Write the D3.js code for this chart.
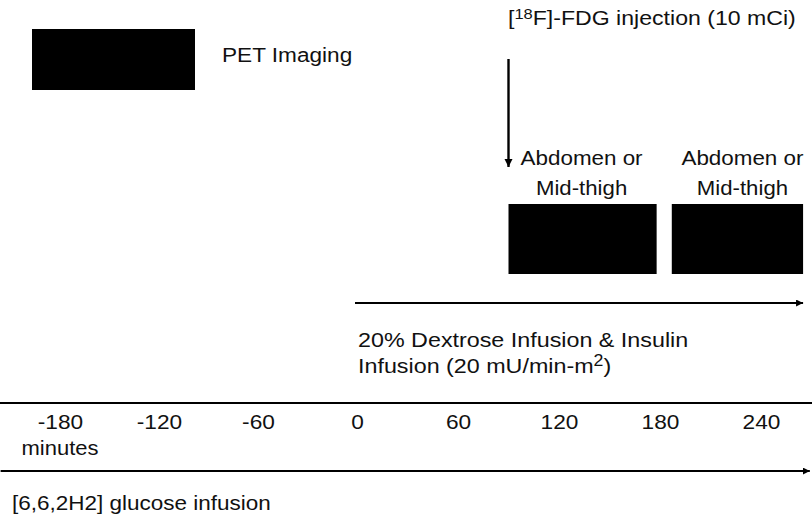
<!DOCTYPE html>
<html><head><meta charset="utf-8">
<script src="https://cdn.jsdelivr.net/npm/d3@7"></script>
<style>body{margin:0;background:#fff}svg{display:block}</style>
</head><body><div id="c"></div>
<script>
const tickValues = [-180, -120, -60, 0, 60, 120, 180, 240];
const tickLabels = ["-180", "-120", "-60", "0", "60", "120", "180", "240"];
const unitLabel = "minutes";
const scanStarts = [90, 187];
const scanEnds = [178, 265];
const scanLabels = [["Abdomen or", "Mid-thigh"], ["Abdomen or", "Mid-thigh"]];
const injectionTime = [90];
const clampStart = [0];
const clampEnd = [265];
const tracerStart = [-216];
const tracerEnd = [269];

const W = 812, H = 517;
const svg = d3.select("#c").append("svg").attr("width", W).attr("height", H);
const x = d3.scaleLinear().domain([-180, 0, 240]).range([60, 357, 761]);
const sans = "'Liberation Sans', Arial, Helvetica, sans-serif";
const FS = 21;

const defs = svg.append("defs");
defs.append("marker").attr("id", "ah").attr("viewBox", "0 0 10 10").attr("refX", 10).attr("refY", 5)
  .attr("markerWidth", 3.5).attr("markerHeight", 3.5).attr("orient", "auto").attr("markerUnits", "strokeWidth")
  .append("path").attr("d", "M0,0L10,5L0,10z").attr("fill", "#000");

function label(xp, y, sx, anchor) {
  return svg.append("text").attr("transform", `translate(${xp},${y}) scale(${sx},1)`)
    .attr("font-family", sans).attr("font-size", FS).attr("fill", "#111").attr("text-anchor", anchor || "start");
}

// Legend
svg.append("rect").attr("x", 32).attr("y", 29).attr("width", 163).attr("height", 61).attr("fill", "#000");
label(222, 62, 1.077).text("PET Imaging");

// Injection
const inj = label(508, 25, 1.10);
inj.append("tspan").text("[");
inj.append("tspan").attr("font-size", 15).attr("dy", -6).text("18");
inj.append("tspan").attr("dy", 6).text("F]-FDG injection (10 mCi)");
svg.append("line").attr("x1", x(injectionTime[0])).attr("x2", x(injectionTime[0])).attr("y1", 59).attr("y2", 167)
  .attr("stroke", "#000").attr("stroke-width", 2.4).attr("marker-end", "url(#ah)");

// Scans
scanStarts.forEach((s, i) => {
  const x0 = x(s), x1 = x(scanEnds[i]);
  svg.append("rect").attr("x", x0).attr("y", 204).attr("width", x1 - x0).attr("height", 70).attr("fill", "#000");
  const cx = (x0 + x1) / 2 + (i === 0 ? -1 : 5);
  label(cx, 165, 1.067, "middle").text(scanLabels[i][0]);
  label(cx, 195, 1.058, "middle").text(scanLabels[i][1]);
});

// Clamp arrow
svg.append("line").attr("x1", x(clampStart[0]) - 2).attr("x2", x(clampEnd[0])).attr("y1", 303).attr("y2", 303)
  .attr("stroke", "#000").attr("stroke-width", 2).attr("marker-end", "url(#ah)");
label(358, 347, 1.11).text("20% Dextrose Infusion & Insulin");
const inf = label(358, 373, 1.11);
inf.append("tspan").text("Infusion (20 mU/min-m");
inf.append("tspan").attr("font-size", 16).attr("dy", -7).text("2");
inf.append("tspan").attr("dy", 7).text(")");

// Time axis
svg.append("line").attr("x1", 0).attr("x2", W).attr("y1", 403).attr("y2", 403).attr("stroke", "#000").attr("stroke-width", 2);
const ax = svg.append("g").attr("transform", "translate(0,403)")
  .call(d3.axisBottom(x).tickValues(tickValues).tickFormat((d, i) => tickLabels[i]).tickSize(0).tickPadding(0));
ax.select(".domain").remove();
ax.selectAll("text").attr("font-family", sans).attr("font-size", FS).attr("fill", "#111").attr("dy", null).attr("y", 26)
  .attr("transform", "scale(1.08,1)");
label(x(tickValues[0]), 455, 1.048, "middle").text(unitLabel);

// Tracer arrow
svg.append("line").attr("x1", x(tracerStart[0])).attr("x2", x(tracerEnd[0])).attr("y1", 471).attr("y2", 471)
  .attr("stroke", "#000").attr("stroke-width", 2).attr("marker-end", "url(#ah)");
label(12, 510, 1.072).text("[6,6,2H2] glucose infusion");
</script></body></html>
